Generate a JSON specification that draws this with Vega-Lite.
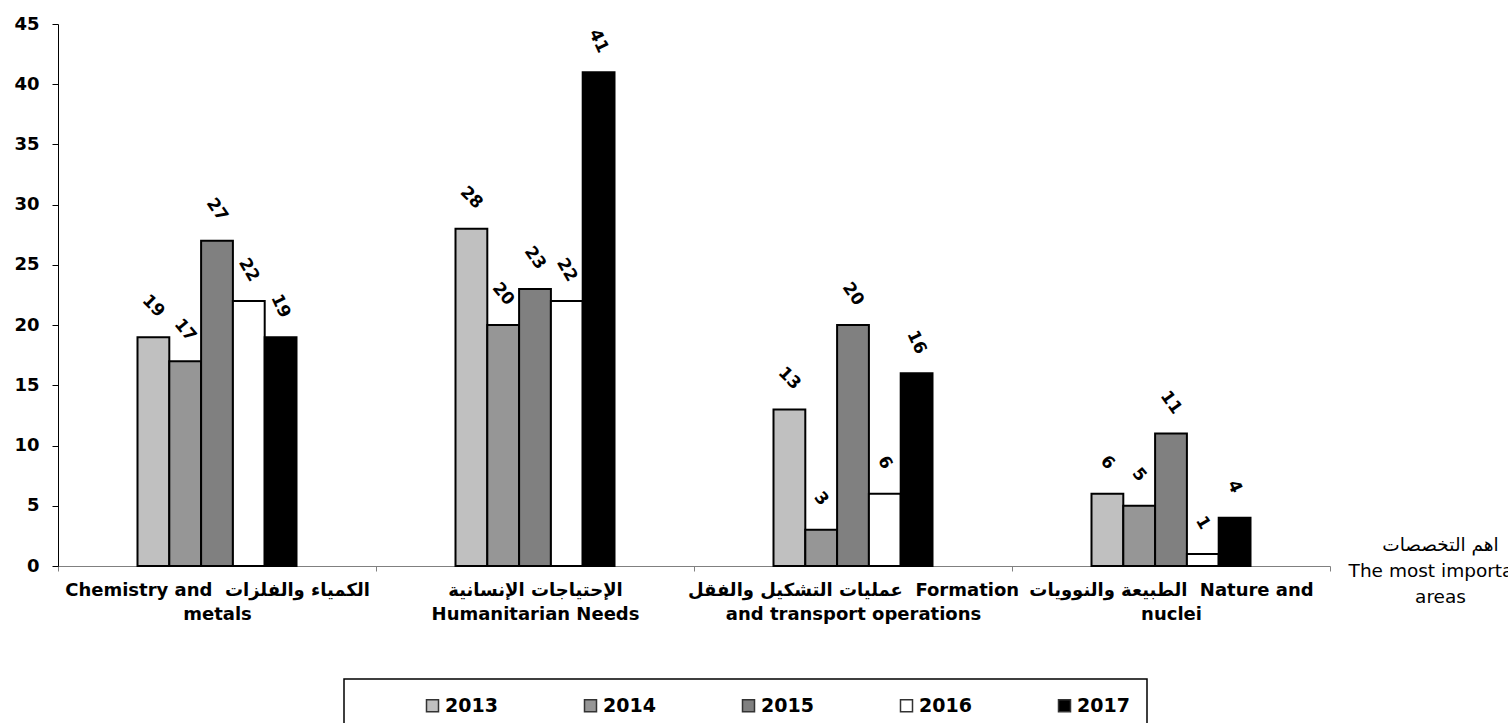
{
  "$schema": "https://vega.github.io/schema/vega-lite/v6.json",
  "width": 1272,
  "height": 542,
  "autosize": {"type": "none"},
  "padding": {"left": 58, "top": 24, "right": 178, "bottom": 157},
  "background": "white",
  "config": {"view": {"stroke": null}},
  "data": {
    "values": [
      {"cat": "Chemistry and \u00a0الكمياء والفلزات\nmetals", "year": "2013", "value": 19},
      {"cat": "Chemistry and \u00a0الكمياء والفلزات\nmetals", "year": "2014", "value": 17},
      {"cat": "Chemistry and \u00a0الكمياء والفلزات\nmetals", "year": "2015", "value": 27},
      {"cat": "Chemistry and \u00a0الكمياء والفلزات\nmetals", "year": "2016", "value": 22},
      {"cat": "Chemistry and \u00a0الكمياء والفلزات\nmetals", "year": "2017", "value": 19},
      {"cat": "الإحتياجات الإنسانية\nHumanitarian Needs", "year": "2013", "value": 28},
      {"cat": "الإحتياجات الإنسانية\nHumanitarian Needs", "year": "2014", "value": 20},
      {"cat": "الإحتياجات الإنسانية\nHumanitarian Needs", "year": "2015", "value": 23},
      {"cat": "الإحتياجات الإنسانية\nHumanitarian Needs", "year": "2016", "value": 22},
      {"cat": "الإحتياجات الإنسانية\nHumanitarian Needs", "year": "2017", "value": 41},
      {"cat": "عمليات التشكيل والفقل \u00a0Formation\nand transport operations", "year": "2013", "value": 13},
      {"cat": "عمليات التشكيل والفقل \u00a0Formation\nand transport operations", "year": "2014", "value": 3},
      {"cat": "عمليات التشكيل والفقل \u00a0Formation\nand transport operations", "year": "2015", "value": 20},
      {"cat": "عمليات التشكيل والفقل \u00a0Formation\nand transport operations", "year": "2016", "value": 6},
      {"cat": "عمليات التشكيل والفقل \u00a0Formation\nand transport operations", "year": "2017", "value": 16},
      {"cat": "الطبيعة والنوويات \u00a0Nature and\nnuclei", "year": "2013", "value": 6},
      {"cat": "الطبيعة والنوويات \u00a0Nature and\nnuclei", "year": "2014", "value": 5},
      {"cat": "الطبيعة والنوويات \u00a0Nature and\nnuclei", "year": "2015", "value": 11},
      {"cat": "الطبيعة والنوويات \u00a0Nature and\nnuclei", "year": "2016", "value": 1},
      {"cat": "الطبيعة والنوويات \u00a0Nature and\nnuclei", "year": "2017", "value": 4}
    ]
  },
  "encoding": {
    "x": {
      "field": "cat",
      "type": "nominal",
      "sort": null,
      "scale": {"paddingInner": 0, "paddingOuter": 0},
      "axis": {
        "labelAngle": 0,
        "labelExpr": "split(datum.label, '\\n')",
        "labelFont": "DejaVu Sans",
        "labelFontWeight": "bold",
        "labelFontSize": 18,
        "labelColor": "black",
        "labelLineHeight": 24,
        "labelPadding": 10,
        "labelLimit": 400,
        "labelBaseline": "top",
        "tickBand": "extent",
        "tickColor": "#808080",
        "tickSize": 5,
        "domainColor": "#808080",
        "domainWidth": 1,
        "title": ["اهم التخصصات", "The most important", "areas"],
        "titleFont": "DejaVu Sans",
        "titleFontWeight": "normal",
        "titleFontSize": 18.5,
        "titleColor": "black",
        "titleLineHeight": 26,
        "titleAlign": "center",
        "titleBaseline": "alphabetic",
        "titleX": 1382,
        "titleY": -16
      }
    },
    "xOffset": {
      "field": "year",
      "type": "nominal",
      "scale": {"paddingInner": 0, "paddingOuter": 0, "range": [79.5, 238.5]}
    },
    "y": {
      "field": "value",
      "type": "quantitative",
      "scale": {"domain": [0, 45], "nice": false},
      "axis": {
        "values": [0, 5, 10, 15, 20, 25, 30, 35, 40, 45],
        "grid": false,
        "title": null,
        "labelFont": "DejaVu Sans",
        "labelFontWeight": "bold",
        "labelFontSize": 18,
        "labelColor": "black",
        "labelPadding": 13,
        "tickSize": 6,
        "tickColor": "black",
        "domainColor": "black",
        "domainWidth": 1
      }
    }
  },
  "layer": [
    {
      "mark": {"type": "bar", "stroke": "black", "strokeWidth": 2},
      "encoding": {
        "fill": {
          "field": "year",
          "type": "nominal",
          "scale": {
            "domain": ["2013", "2014", "2015", "2016", "2017"],
            "range": ["#C0C0C0", "#969696", "#808080", "#FFFFFF", "#000000"]
          },
          "legend": {
            "orient": "none",
            "direction": "horizontal",
            "columns": 5,
            "legendX": 286,
            "legendY": 655,
            "padding": 17,
            "strokeColor": "black",
            "fillColor": "white",
            "title": " ",
            "titleOrient": "left",
            "titleFontSize": 10,
            "titlePadding": 62,
            "symbolType": "square",
            "symbolSize": 144,
            "symbolStrokeColor": "#333333",
            "symbolStrokeWidth": 1.5,
            "symbolOpacity": 1,
            "labelFont": "DejaVu Sans",
            "labelFontWeight": "bold",
            "labelFontSize": 19,
            "labelColor": "black",
            "labelOffset": 3,
            "columnPadding": 83,
            "encode": {"legend": {"update": {"strokeWidth": {"value": 1.5}}}}
          }
        }
      }
    },
    {
      "mark": {
        "type": "text",
        "radius": 31,
        "align": "center",
        "baseline": "middle",
        "font": "DejaVu Sans",
        "fontWeight": "bold",
        "fontSize": 17,
        "color": "black"
      },
      "encoding": {
        "text": {"field": "value", "type": "quantitative"},
        "angle": {
          "field": "year",
          "type": "nominal",
          "scale": {
            "domain": ["2013", "2014", "2015", "2016", "2017"],
            "range": [45, 65, 33, 58, 90]
          },
          "legend": null
        }
      }
    }
  ]
}
